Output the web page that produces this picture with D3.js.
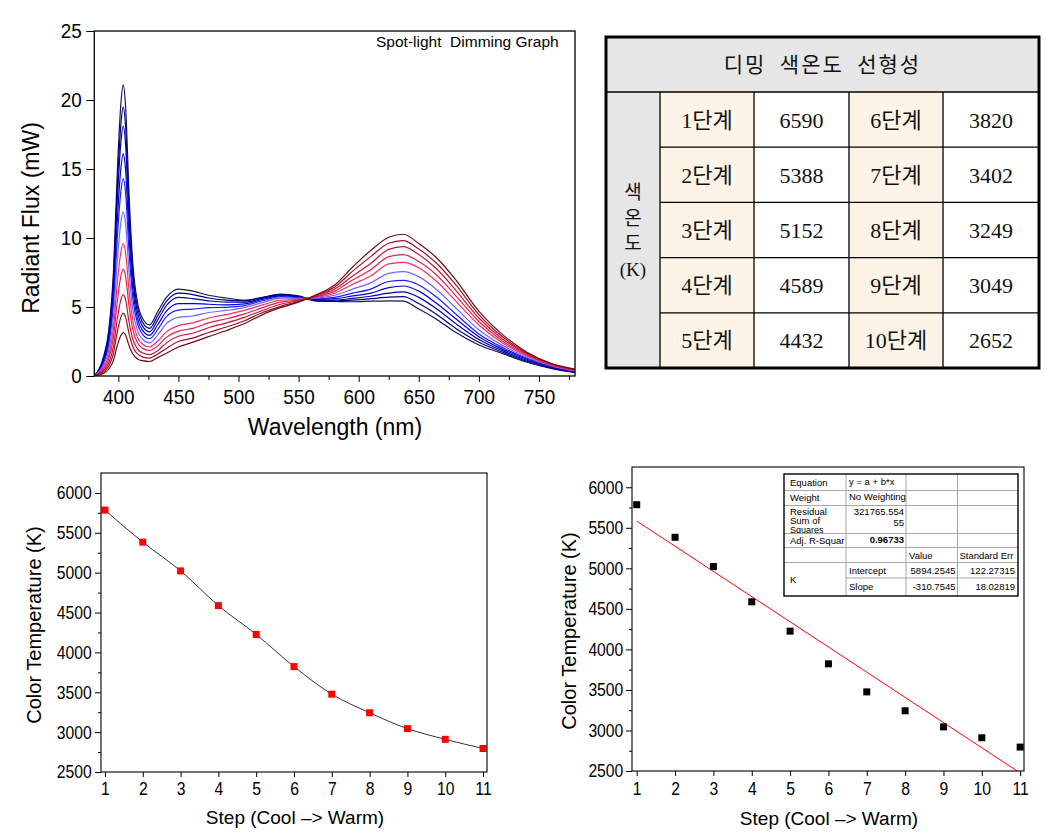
<!DOCTYPE html>
<html><head><meta charset="utf-8">
<script src="https://cdn.jsdelivr.net/npm/d3@7"></script>
<style>
body{margin:0;background:#fff;}
svg{display:block;}
</style></head><body>
<svg id="c" width="1061" height="834"></svg>
<script>
// ---------------- DATA ----------------
const wavelengths = [380,384,388,392,396,399,402,404,406,409,412,416,420,426,433,440,450,462,475,490,505,520,535,550,565,580,595,610,625,637,650,665,680,700,720,740,760,780];
const step1  = [0.05,0.5,1.5,3.3,7.7,14.5,19.6,21.1,19.6,12.99,8.21,5.3,4.2,3.7,4.7,5.7,6.3,6.15,5.85,5.65,5.5,5.7,5.93,5.8,5.42,5.4,5.38,5.42,5.45,5.43,4.85,4.1,3.2,2.25,1.62,1.0,0.55,0.25];
const step2  = [0.05,0.46,1.39,3.05,7.11,13.4,18.11,19.5,18.12,12.02,7.61,4.93,3.92,3.45,4.4,5.4,6.0,5.9,5.65,5.5,5.45,5.68,5.9,5.78,5.46,5.45,5.5,5.6,5.72,5.75,5.25,4.45,3.5,2.45,1.72,1.07,0.59,0.27];
const step3  = [0.04,0.43,1.29,2.83,6.61,12.44,16.82,18.1,16.82,11.16,7.06,4.57,3.63,3.2,4.1,5.1,5.7,5.6,5.45,5.35,5.35,5.62,5.85,5.75,5.5,5.5,5.62,5.78,6.0,6.09,5.7,4.85,3.85,2.65,1.82,1.14,0.63,0.3];
const step4  = [0.04,0.38,1.14,2.52,5.88,11.06,14.95,16.1,14.97,9.97,6.36,4.16,3.33,2.95,3.75,4.7,5.25,5.25,5.2,5.15,5.22,5.55,5.8,5.72,5.55,5.6,5.8,6.0,6.4,6.52,6.15,5.25,4.2,2.85,1.93,1.21,0.67,0.32];
const step5  = [0.03,0.34,1.02,2.24,5.22,9.83,13.29,14.3,13.3,8.89,5.7,3.77,3.04,2.7,3.4,4.3,4.78,4.85,4.95,4.98,5.1,5.45,5.75,5.68,5.6,5.7,6.0,6.3,6.85,6.93,6.6,5.7,4.55,3.05,2.05,1.28,0.71,0.35];
const step6  = [0.03,0.28,0.85,1.86,4.34,8.18,11.05,11.9,11.08,7.47,4.86,3.27,2.68,2.4,3.0,3.8,4.25,4.35,4.6,4.75,4.95,5.32,5.65,5.62,5.65,5.85,6.3,6.75,7.44,7.56,7.2,6.25,5.0,3.35,2.2,1.36,0.75,0.37];
const step7  = [0.02,0.23,0.68,1.5,3.5,6.6,8.92,9.6,8.96,6.1,4.04,2.79,2.32,2.1,2.55,3.2,3.65,3.85,4.2,4.45,4.75,5.15,5.5,5.55,5.7,6.0,6.65,7.25,8.12,8.24,7.85,6.85,5.5,3.7,2.38,1.45,0.79,0.4];
const step8  = [0.02,0.18,0.55,1.21,2.83,5.32,7.19,7.75,7.24,5.0,3.38,2.39,2.02,1.85,2.2,2.8,3.25,3.45,3.85,4.15,4.5,4.95,5.35,5.5,5.75,6.15,6.95,7.7,8.65,8.8,8.3,7.3,5.9,3.95,2.52,1.52,0.83,0.42];
const step9  = [0.02,0.14,0.42,0.92,2.16,4.06,5.49,5.9,5.53,3.87,2.68,1.95,1.68,1.55,1.85,2.4,2.88,3.1,3.5,3.85,4.25,4.75,5.2,5.45,5.8,6.3,7.25,8.15,9.18,9.37,8.8,7.75,6.3,4.2,2.67,1.59,0.86,0.45];
const step10 = [0.01,0.11,0.32,0.71,1.66,3.13,4.23,4.55,4.27,3.04,2.14,1.6,1.39,1.3,1.6,2.0,2.5,2.75,3.15,3.55,4.0,4.6,5.05,5.4,5.85,6.45,7.6,8.65,9.62,9.81,9.2,8.15,6.7,4.45,2.83,1.65,0.89,0.47];
const step11 = [0.01,0.07,0.22,0.49,1.15,2.16,2.92,3.15,2.97,2.17,1.59,1.24,1.11,1.05,1.35,1.65,2.1,2.45,2.85,3.3,3.8,4.45,4.95,5.35,5.9,6.6,7.9,9.1,10.05,10.27,9.6,8.55,7.05,4.7,2.98,1.72,0.92,0.5];
const spectra = [step1,step2,step3,step4,step5,step6,step7,step8,step9,step10,step11];
const spectrumTitle = "Spot-light  Dimming Graph";
const wlTicks = [400,450,500,550,600,650,700,750];
const wlMinorTicks = [425,475,525,575,625,675,725,775];
const fluxTicks = [0,5,10,15,20,25];

const tableTitle = "디밍  색온도  선형성";
const tableSide = ["색","온","도","(K)"];
const stepLabelsA = ["1단계","2단계","3단계","4단계","5단계"];
const cctA = [6590,5388,5152,4589,4432];
const stepLabelsB = ["6단계","7단계","8단계","9단계","10단계"];
const cctB = [3820,3402,3249,3049,2652];

const steps = [1,2,3,4,5,6,7,8,9,10,11];
const colorTemps = [5785,5383,5022,4587,4225,3822,3476,3243,3044,2910,2795];
const ctTicks = [2500,3000,3500,4000,4500,5000,5500,6000];
const ctMinorTicks = [2750,3250,3750,4250,4750,5250,5750];
const fitIntercept = 5894.2545;
const fitSlope = -310.7545;
const fitText = {
  equation:["Equation","y = a + b*x"],
  weight:["Weight","No Weighting"],
  rss:["Residual","Sum of","Squares","321765.554","55"],
  adj:["Adj. R-Squar","0.96733"],
  head:["Value","Standard Err"],
  param:["K","Intercept","Slope"],
  values:["5894.2545","-310.7545"],
  errors:["122.27315","18.02819"]
};

// ---------------- DRAW ----------------
const SANS = "'Liberation Sans', Arial, Helvetica, sans-serif";
const SERIF_KR = "'Liberation Serif', 'Noto Sans CJK KR', serif";
const KR = "'Noto Sans CJK KR', sans-serif";
const svg = d3.select('#c');
svg.append('rect').attr('width',1061).attr('height',834).attr('fill','#fff');

function styleAxis(g, fs, sx){
  g.select('.domain').remove();
  g.selectAll('line').attr('stroke','#000').attr('stroke-width',1);
  g.selectAll('text').attr('font-family',SANS).attr('font-size',fs).attr('fill','#000');
  if(sx) g.selectAll('text').attr('transform',`scale(${sx},1)`);
}
const fmt = d3.format('d');

// ===== Spectrum chart =====
const xS = d3.scaleLinear().domain([380,780]).range([94.3,575]);
const yS = d3.scaleLinear().domain([0,25]).range([376,31]);
const specColors = ["#14145e","#00007e","#0000a8","#0000d8","#1c1cff","#6a6aff","#ff2a62","#e3204c","#bd1a38","#951428","#6e0c12"];
svg.append('clipPath').attr('id','clipS').append('rect')
  .attr('x',xS(380)).attr('y',yS(25)).attr('width',xS(780)-xS(380)).attr('height',yS(0)-yS(25));
const lineS = d3.line().x((d,i)=>xS(wavelengths[i])).y(d=>yS(d)).curve(d3.curveMonotoneX);
const gS = svg.append('g').attr('clip-path','url(#clipS)');
spectra.forEach((s,k)=>{
  gS.append('path').attr('d',lineS(s)).attr('fill','none')
    .attr('stroke',specColors[k]).attr('stroke-width',1.2);
});
let ax = svg.append('g').attr('transform',`translate(0,${yS(0)})`)
  .call(d3.axisBottom(xS).tickValues(wlTicks).tickSize(6).tickPadding(7).tickSizeOuter(0));
styleAxis(ax,21,0.9);
ax = svg.append('g').attr('transform',`translate(0,${yS(0)})`)
  .call(d3.axisBottom(xS).tickValues(wlMinorTicks.filter(v=>v<=780)).tickSize(4).tickFormat('').tickSizeOuter(0));
styleAxis(ax,21);
ax = svg.append('g').attr('transform',`translate(${xS(380)},0)`)
  .call(d3.axisLeft(yS).tickValues(fluxTicks).tickSize(8).tickPadding(6).tickSizeOuter(0));
styleAxis(ax,21,0.9);
svg.append('rect').attr('x',xS(380)).attr('y',yS(25)).attr('width',xS(780)-xS(380)).attr('height',yS(0)-yS(25))
  .attr('fill','none').attr('stroke','#000').attr('stroke-width',1.3);
svg.append('text').attr('x',376).attr('y',47).attr('font-family',SANS).attr('font-size',15.5)
  .style('white-space','pre').text(spectrumTitle);
svg.append('text').attr('transform','translate(39,218) rotate(-90)').attr('text-anchor','middle')
  .attr('font-family',SANS).attr('font-size',23).text('Radiant Flux (mW)');
svg.append('text').attr('x',335).attr('y',435).attr('text-anchor','middle')
  .attr('font-family',SANS).attr('font-size',23).text('Wavelength (nm)');

// ===== Table =====
const T = {x0:606,x1:1039,y0:37,yh:92,y1:368,cols:[660,754,849,943]};
const rowY = d3.scaleLinear().domain([0,5]).range([T.yh,T.y1]);
const tg = svg.append('g');
tg.append('rect').attr('x',T.x0).attr('y',T.y0).attr('width',T.x1-T.x0).attr('height',T.yh-T.y0).attr('fill','#e6e6e6');
tg.append('rect').attr('x',T.x0).attr('y',T.yh).attr('width',T.cols[0]-T.x0).attr('height',T.y1-T.yh).attr('fill','#e6e6e6');
tg.append('rect').attr('x',T.cols[0]).attr('y',T.yh).attr('width',T.cols[1]-T.cols[0]).attr('height',T.y1-T.yh).attr('fill','#fdf4e7');
tg.append('rect').attr('x',T.cols[2]).attr('y',T.yh).attr('width',T.cols[3]-T.cols[2]).attr('height',T.y1-T.yh).attr('fill','#fdf4e7');
tg.append('line').attr('x1',T.x0).attr('x2',T.x1).attr('y1',T.yh).attr('y2',T.yh).attr('stroke','#000').attr('stroke-width',1.5);
d3.range(1,5).forEach(r=>{
  tg.append('line').attr('x1',T.cols[0]).attr('x2',T.x1).attr('y1',rowY(r)).attr('y2',rowY(r)).attr('stroke','#000').attr('stroke-width',1.3);
});
T.cols.forEach(c=>{
  tg.append('line').attr('x1',c).attr('x2',c).attr('y1',T.yh).attr('y2',T.y1).attr('stroke','#000').attr('stroke-width',1.3);
});
tg.append('rect').attr('x',T.x0).attr('y',T.y0).attr('width',T.x1-T.x0).attr('height',T.y1-T.y0)
  .attr('fill','none').attr('stroke','#000').attr('stroke-width',3);
tg.append('text').attr('x',(T.x0+T.x1)/2).attr('y',(T.y0+T.yh)/2).attr('dy','0.38em').attr('text-anchor','middle')
  .attr('font-family',KR).attr('font-size',21).attr('letter-spacing',2).attr('fill','#111').style('white-space','pre').text(tableTitle);
tableSide.forEach((s,i)=>{
  tg.append('text').attr('x',(T.x0+T.cols[0])/2).attr('y',192+i*25.7).attr('dy','0.36em').attr('text-anchor','middle')
    .attr('font-family',SERIF_KR).attr('font-size',19).attr('fill','#111').text(s);
});
const colMid = [(T.cols[0]+T.cols[1])/2,(T.cols[1]+T.cols[2])/2,(T.cols[2]+T.cols[3])/2,(T.cols[3]+T.x1)/2];
[stepLabelsA,cctA,stepLabelsB,cctB].forEach((arr,ci)=>{
  arr.forEach((v,r)=>{
    tg.append('text').attr('x',colMid[ci]).attr('y',(rowY(r)+rowY(r+1))/2).attr('dy','0.36em').attr('text-anchor','middle')
      .attr('font-family',SERIF_KR).attr('font-size',22).attr('fill','#111').text(v);
  });
});

// ===== Bottom-left chart =====
const xL = d3.scaleLinear().domain([0.895,11.105]).range([101,487]);
const yL = d3.scaleLinear().domain([2500,6250]).range([772,473]);
ax = svg.append('g').attr('transform',`translate(0,${yL(2500)})`)
  .call(d3.axisBottom(xL).tickValues(steps).tickFormat(fmt).tickSize(5).tickPadding(4.7).tickSizeOuter(0));
styleAxis(ax,18.5,0.85);
ax = svg.append('g').attr('transform',`translate(${xL.range()[0]},0)`)
  .call(d3.axisLeft(yL).tickValues(ctTicks).tickFormat(fmt).tickSize(6).tickPadding(5).tickSizeOuter(0));
styleAxis(ax,18.5,0.85);
ax = svg.append('g').attr('transform',`translate(${xL.range()[0]},0)`)
  .call(d3.axisLeft(yL).tickValues(ctMinorTicks).tickSize(3).tickFormat('').tickSizeOuter(0));
styleAxis(ax,18.5);
const lineL = d3.line().x((d,i)=>xL(steps[i])).y(d=>yL(d)).curve(d3.curveMonotoneX);
svg.append('path').attr('d',lineL(colorTemps)).attr('fill','none').attr('stroke','#333').attr('stroke-width',1);
svg.append('g').selectAll('rect').data(colorTemps).join('rect')
  .attr('x',(d,i)=>xL(steps[i])-3.5).attr('y',d=>yL(d)-3.5).attr('width',7).attr('height',7).attr('fill','#ff0000');
svg.append('rect').attr('x',101).attr('y',473).attr('width',386).attr('height',299)
  .attr('fill','none').attr('stroke','#000').attr('stroke-width',1.1);
svg.append('text').attr('transform','translate(41,625) rotate(-90)').attr('text-anchor','middle')
  .attr('font-family',SANS).attr('font-size',20).text('Color Temperature (K)');
svg.append('text').attr('x',295).attr('y',824).attr('text-anchor','middle')
  .attr('font-family',SANS).attr('font-size',19).text('Step (Cool –> Warm)');

// ===== Bottom-right chart =====
const xR = d3.scaleLinear().domain([0.877,11.1]).range([632,1024]);
const yR = d3.scaleLinear().domain([2500,6250]).range([771,467]);
ax = svg.append('g').attr('transform',`translate(0,${yR(2500)})`)
  .call(d3.axisBottom(xR).tickValues(steps).tickFormat(fmt).tickSize(5).tickPadding(5.7).tickSizeOuter(0));
styleAxis(ax,18.5,0.85);
ax = svg.append('g').attr('transform',`translate(${xR.range()[0]},0)`)
  .call(d3.axisLeft(yR).tickValues(ctTicks).tickFormat(fmt).tickSize(6).tickPadding(4.2).tickSizeOuter(0));
styleAxis(ax,18.5,0.85);
ax = svg.append('g').attr('transform',`translate(${xR.range()[0]},0)`)
  .call(d3.axisLeft(yR).tickValues(ctMinorTicks).tickSize(3).tickFormat('').tickSizeOuter(0));
styleAxis(ax,18.5);
svg.append('clipPath').attr('id','clipR').append('rect').attr('x',632).attr('y',467).attr('width',392).attr('height',304);
svg.append('line').attr('clip-path','url(#clipR)')
  .attr('x1',xR(1)).attr('y1',yR(fitIntercept+fitSlope*1))
  .attr('x2',xR(11)).attr('y2',yR(fitIntercept+fitSlope*11))
  .attr('stroke','#ff0000').attr('stroke-width',1);
svg.append('g').selectAll('rect').data(colorTemps).join('rect')
  .attr('x',(d,i)=>xR(steps[i])-3.5).attr('y',d=>yR(d)-3.5).attr('width',7).attr('height',7).attr('fill','#000');
svg.append('rect').attr('x',632).attr('y',467).attr('width',392).attr('height',304)
  .attr('fill','none').attr('stroke','#000').attr('stroke-width',1.1);
svg.append('text').attr('transform','translate(576,631) rotate(-90)').attr('text-anchor','middle')
  .attr('font-family',SANS).attr('font-size',20).text('Color Temperature (K)');
svg.append('text').attr('x',829).attr('y',825).attr('text-anchor','middle')
  .attr('font-family',SANS).attr('font-size',19).text('Step (Cool –> Warm)');

// ===== Fit results table =====
const F = {x0:784,x1:1018,cols:[846,906,957.5],rows:[474,490.5,505.5,533.5,547.5,562.5,578,596]};
const fg = svg.append('g');
fg.append('rect').attr('x',F.x0).attr('y',F.rows[0]).attr('width',F.x1-F.x0).attr('height',F.rows[7]-F.rows[0]).attr('fill','#fff');
F.rows.slice(1,6).forEach(y=>{
  fg.append('line').attr('x1',F.x0).attr('x2',F.x1).attr('y1',y).attr('y2',y).attr('stroke','#a8a8a8').attr('stroke-width',1);
});
fg.append('line').attr('x1',F.cols[0]).attr('x2',F.x1).attr('y1',F.rows[6]).attr('y2',F.rows[6]).attr('stroke','#a8a8a8').attr('stroke-width',1);
F.cols.forEach(x=>{
  fg.append('line').attr('x1',x).attr('x2',x).attr('y1',F.rows[0]).attr('y2',F.rows[7]).attr('stroke','#a8a8a8').attr('stroke-width',1);
});
fg.append('rect').attr('x',F.x0).attr('y',F.rows[0]).attr('width',F.x1-F.x0).attr('height',F.rows[7]-F.rows[0])
  .attr('fill','none').attr('stroke','#000').attr('stroke-width',1.4);
svg.append('clipPath').attr('id','clipRss').append('rect').attr('x',F.x0).attr('y',F.rows[2]).attr('width',F.cols[0]-F.x0).attr('height',F.rows[3]-F.rows[2]-0.5);
function ft(x,y,t,anchor,bold,clip,fs){
  const e = fg.append('text').attr('x',x).attr('y',y).attr('font-family',SANS).attr('font-size',fs||9.5)
    .attr('text-anchor',anchor||'start').attr('fill','#000').text(t);
  if(bold) e.attr('font-weight','bold');
  if(clip) e.attr('clip-path',`url(#${clip})`);
  return e;
}
const L = F.x0+6, C1 = F.cols[0]+3;
ft(L,486,fitText.equation[0]); ft(C1,485,fitText.equation[1]);
ft(L,501,fitText.weight[0]); ft(C1,499.5,fitText.weight[1]);
ft(L,514.5,fitText.rss[0]); ft(L,524,fitText.rss[1]); ft(L,533,fitText.rss[2],'start',false,'clipRss',9);
ft(F.cols[1]-2,514.5,fitText.rss[3],'end'); ft(F.cols[1]-2,525.5,fitText.rss[4],'end');
ft(L,544,fitText.adj[0]); ft(F.cols[1]-2,543,fitText.adj[1],'end',true);
ft(F.cols[1]+3,558.5,fitText.head[0]); ft(F.cols[2]+2,558.5,fitText.head[1]);
ft(L,583,fitText.param[0]);
ft(C1,573.5,fitText.param[1]); ft(C1,590,fitText.param[2]);
ft(F.cols[2]-2,573.5,fitText.values[0],'end'); ft(F.cols[2]-2,590,fitText.values[1],'end');
ft(F.x1-3,573.5,fitText.errors[0],'end'); ft(F.x1-3,590,fitText.errors[1],'end');
</script>
</body></html>
